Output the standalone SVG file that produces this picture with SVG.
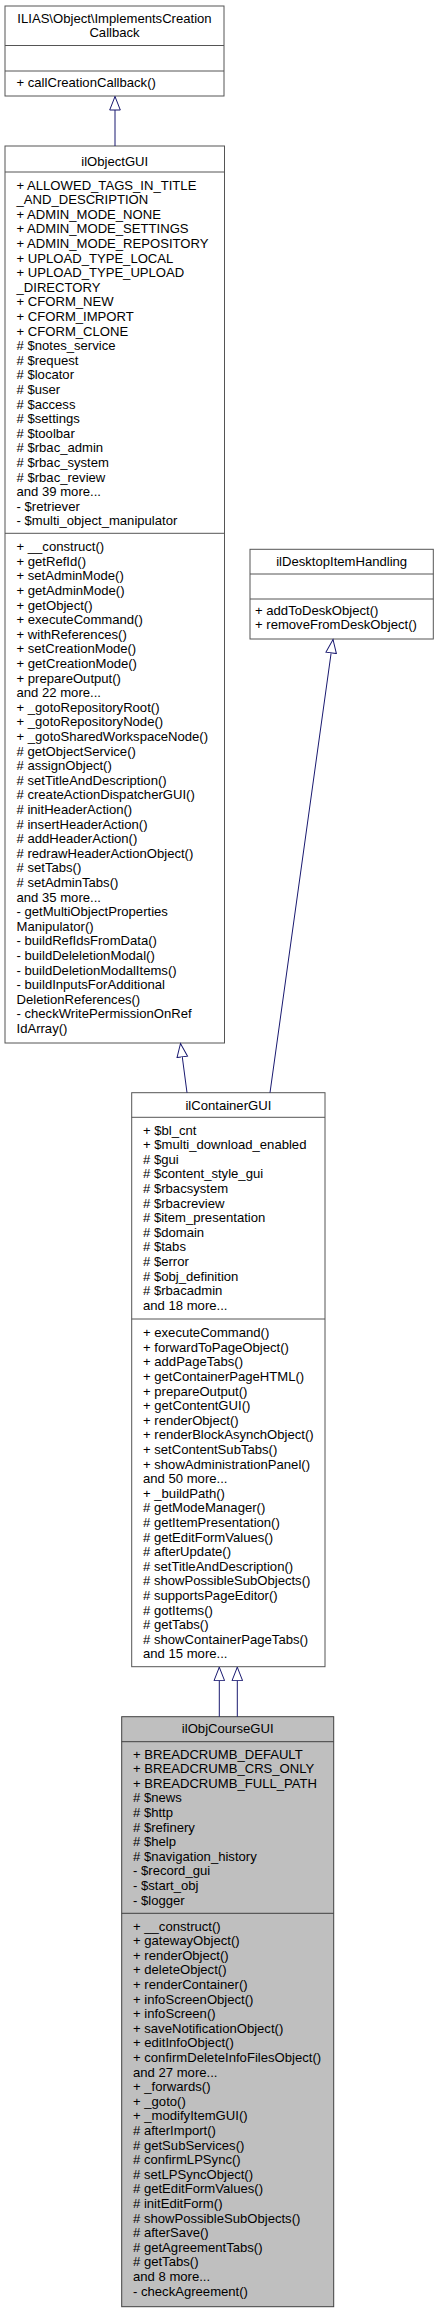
<svg xmlns="http://www.w3.org/2000/svg" width="439" height="2312" viewBox="0 0 439 2312">
<style>
text{font-family:"Liberation Sans",Arial,Helvetica,sans-serif;font-size:13.1px;fill:#000}
.c{text-anchor:middle}
.box{fill:#fff;stroke:#555;stroke-width:1}
.main{fill:#bfbfbf;stroke:#404040;stroke-width:1}
.sep{stroke:#555;stroke-width:1}
.msep{stroke:#404040;stroke-width:1}
.edge{fill:none;stroke:#191970;stroke-width:1;marker-end:url(#tri)}
</style>
<defs>
<marker id="tri" markerUnits="userSpaceOnUse" markerWidth="16" markerHeight="13" refX="14" refY="6" orient="auto">
<path d="M0.5,0.7 L14,6 L0.5,11.3 Z" fill="#fff" stroke="#191970" stroke-width="1"/>
</marker>
</defs>
<rect width="439" height="2312" fill="#fff"/>

<g id="node-creationcallback">
<rect class="box" x="5" y="6" width="219" height="90"/>
<line class="sep" x1="5" y1="45.5" x2="224" y2="45.5"/>
<line class="sep" x1="5" y1="71" x2="224" y2="71"/>
<text class="c" x="114.5" y="22.5">ILIAS\Object\ImplementsCreation</text>
<text class="c" x="114.5" y="37.1">Callback</text>
<text x="16.5" y="87.3">+ callCreationCallback()</text>
</g>

<g id="node-ilObjectGUI">
<rect class="box" x="5" y="146" width="219.5" height="897"/>
<line class="sep" x1="5" y1="172" x2="224.5" y2="172"/>
<line class="sep" x1="5" y1="533.3" x2="224.5" y2="533.3"/>
<text class="c" x="114.75" y="165.5">ilObjectGUI</text>
<text x="16.5" y="189.5"><tspan x="16.5">+ ALLOWED_TAGS_IN_TITLE</tspan><tspan x="16.5" dy="14.6">_AND_DESCRIPTION</tspan><tspan x="16.5" dy="14.6">+ ADMIN_MODE_NONE</tspan><tspan x="16.5" dy="14.6">+ ADMIN_MODE_SETTINGS</tspan><tspan x="16.5" dy="14.6">+ ADMIN_MODE_REPOSITORY</tspan><tspan x="16.5" dy="14.6">+ UPLOAD_TYPE_LOCAL</tspan><tspan x="16.5" dy="14.6">+ UPLOAD_TYPE_UPLOAD</tspan><tspan x="16.5" dy="14.6">_DIRECTORY</tspan><tspan x="16.5" dy="14.6">+ CFORM_NEW</tspan><tspan x="16.5" dy="14.6">+ CFORM_IMPORT</tspan><tspan x="16.5" dy="14.6">+ CFORM_CLONE</tspan><tspan x="16.5" dy="14.6"># $notes_service</tspan><tspan x="16.5" dy="14.6"># $request</tspan><tspan x="16.5" dy="14.6"># $locator</tspan><tspan x="16.5" dy="14.6"># $user</tspan><tspan x="16.5" dy="14.6"># $access</tspan><tspan x="16.5" dy="14.6"># $settings</tspan><tspan x="16.5" dy="14.6"># $toolbar</tspan><tspan x="16.5" dy="14.6"># $rbac_admin</tspan><tspan x="16.5" dy="14.6"># $rbac_system</tspan><tspan x="16.5" dy="14.6"># $rbac_review</tspan><tspan x="16.5" dy="14.6">and 39 more...</tspan><tspan x="16.5" dy="14.6">- $retriever</tspan><tspan x="16.5" dy="14.6">- $multi_object_manipulator</tspan></text>
<text x="16.5" y="551.2"><tspan x="16.5">+ __construct()</tspan><tspan x="16.5" dy="14.6">+ getRefId()</tspan><tspan x="16.5" dy="14.6">+ setAdminMode()</tspan><tspan x="16.5" dy="14.6">+ getAdminMode()</tspan><tspan x="16.5" dy="14.6">+ getObject()</tspan><tspan x="16.5" dy="14.6">+ executeCommand()</tspan><tspan x="16.5" dy="14.6">+ withReferences()</tspan><tspan x="16.5" dy="14.6">+ setCreationMode()</tspan><tspan x="16.5" dy="14.6">+ getCreationMode()</tspan><tspan x="16.5" dy="14.6">+ prepareOutput()</tspan><tspan x="16.5" dy="14.6">and 22 more...</tspan><tspan x="16.5" dy="14.6">+ _gotoRepositoryRoot()</tspan><tspan x="16.5" dy="14.6">+ _gotoRepositoryNode()</tspan><tspan x="16.5" dy="14.6">+ _gotoSharedWorkspaceNode()</tspan><tspan x="16.5" dy="14.6"># getObjectService()</tspan><tspan x="16.5" dy="14.6"># assignObject()</tspan><tspan x="16.5" dy="14.6"># setTitleAndDescription()</tspan><tspan x="16.5" dy="14.6"># createActionDispatcherGUI()</tspan><tspan x="16.5" dy="14.6"># initHeaderAction()</tspan><tspan x="16.5" dy="14.6"># insertHeaderAction()</tspan><tspan x="16.5" dy="14.6"># addHeaderAction()</tspan><tspan x="16.5" dy="14.6"># redrawHeaderActionObject()</tspan><tspan x="16.5" dy="14.6"># setTabs()</tspan><tspan x="16.5" dy="14.6"># setAdminTabs()</tspan><tspan x="16.5" dy="14.6">and 35 more...</tspan><tspan x="16.5" dy="14.6">- getMultiObjectProperties</tspan><tspan x="16.5" dy="14.6">Manipulator()</tspan><tspan x="16.5" dy="14.6">- buildRefIdsFromData()</tspan><tspan x="16.5" dy="14.6">- buildDeleletionModal()</tspan><tspan x="16.5" dy="14.6">- buildDeletionModalItems()</tspan><tspan x="16.5" dy="14.6">- buildInputsForAdditional</tspan><tspan x="16.5" dy="14.6">DeletionReferences()</tspan><tspan x="16.5" dy="14.6">- checkWritePermissionOnRef</tspan><tspan x="16.5" dy="14.6">IdArray()</tspan></text>
</g>

<g id="node-ilDesktopItemHandling">
<rect class="box" x="250" y="549.3" width="183.3" height="89.7"/>
<line class="sep" x1="250" y1="574" x2="433.3" y2="574"/>
<line class="sep" x1="250" y1="599" x2="433.3" y2="599"/>
<text class="c" x="341.65" y="566">ilDesktopItemHandling</text>
<text x="255" y="614.5"><tspan x="255">+ addToDeskObject()</tspan><tspan x="255" dy="14.6">+ removeFromDeskObject()</tspan></text>
</g>

<g id="node-ilContainerGUI">
<rect class="box" x="131.7" y="1092.7" width="193.3" height="574"/>
<line class="sep" x1="131.7" y1="1117.3" x2="325" y2="1117.3"/>
<line class="sep" x1="131.7" y1="1319" x2="325" y2="1319"/>
<text class="c" x="228.35" y="1109.5">ilContainerGUI</text>
<text x="143" y="1134.5"><tspan x="143">+ $bl_cnt</tspan><tspan x="143" dy="14.6">+ $multi_download_enabled</tspan><tspan x="143" dy="14.6"># $gui</tspan><tspan x="143" dy="14.6"># $content_style_gui</tspan><tspan x="143" dy="14.6"># $rbacsystem</tspan><tspan x="143" dy="14.6"># $rbacreview</tspan><tspan x="143" dy="14.6"># $item_presentation</tspan><tspan x="143" dy="14.6"># $domain</tspan><tspan x="143" dy="14.6"># $tabs</tspan><tspan x="143" dy="14.6"># $error</tspan><tspan x="143" dy="14.6"># $obj_definition</tspan><tspan x="143" dy="14.6"># $rbacadmin</tspan><tspan x="143" dy="14.6">and 18 more...</tspan></text>
<text x="143" y="1337.2"><tspan x="143">+ executeCommand()</tspan><tspan x="143" dy="14.6">+ forwardToPageObject()</tspan><tspan x="143" dy="14.6">+ addPageTabs()</tspan><tspan x="143" dy="14.6">+ getContainerPageHTML()</tspan><tspan x="143" dy="14.6">+ prepareOutput()</tspan><tspan x="143" dy="14.6">+ getContentGUI()</tspan><tspan x="143" dy="14.6">+ renderObject()</tspan><tspan x="143" dy="14.6">+ renderBlockAsynchObject()</tspan><tspan x="143" dy="14.6">+ setContentSubTabs()</tspan><tspan x="143" dy="14.6">+ showAdministrationPanel()</tspan><tspan x="143" dy="14.6">and 50 more...</tspan><tspan x="143" dy="14.6">+ _buildPath()</tspan><tspan x="143" dy="14.6"># getModeManager()</tspan><tspan x="143" dy="14.6"># getItemPresentation()</tspan><tspan x="143" dy="14.6"># getEditFormValues()</tspan><tspan x="143" dy="14.6"># afterUpdate()</tspan><tspan x="143" dy="14.6"># setTitleAndDescription()</tspan><tspan x="143" dy="14.6"># showPossibleSubObjects()</tspan><tspan x="143" dy="14.6"># supportsPageEditor()</tspan><tspan x="143" dy="14.6"># gotItems()</tspan><tspan x="143" dy="14.6"># getTabs()</tspan><tspan x="143" dy="14.6"># showContainerPageTabs()</tspan><tspan x="143" dy="14.6">and 15 more...</tspan></text>
</g>

<g id="node-ilObjCourseGUI">
<rect class="main" x="121.7" y="1716.7" width="212" height="590"/>
<line class="msep" x1="121.7" y1="1741.7" x2="333.7" y2="1741.7"/>
<line class="msep" x1="121.7" y1="1913.3" x2="333.7" y2="1913.3"/>
<text class="c" x="227.7" y="1732.8">ilObjCourseGUI</text>
<text x="133" y="1758.5"><tspan x="133">+ BREADCRUMB_DEFAULT</tspan><tspan x="133" dy="14.6">+ BREADCRUMB_CRS_ONLY</tspan><tspan x="133" dy="14.6">+ BREADCRUMB_FULL_PATH</tspan><tspan x="133" dy="14.6"># $news</tspan><tspan x="133" dy="14.6"># $http</tspan><tspan x="133" dy="14.6"># $refinery</tspan><tspan x="133" dy="14.6"># $help</tspan><tspan x="133" dy="14.6"># $navigation_history</tspan><tspan x="133" dy="14.6">- $record_gui</tspan><tspan x="133" dy="14.6">- $start_obj</tspan><tspan x="133" dy="14.6">- $logger</tspan></text>
<text x="133" y="1930.5"><tspan x="133">+ __construct()</tspan><tspan x="133" dy="14.6">+ gatewayObject()</tspan><tspan x="133" dy="14.6">+ renderObject()</tspan><tspan x="133" dy="14.6">+ deleteObject()</tspan><tspan x="133" dy="14.6">+ renderContainer()</tspan><tspan x="133" dy="14.6">+ infoScreenObject()</tspan><tspan x="133" dy="14.6">+ infoScreen()</tspan><tspan x="133" dy="14.6">+ saveNotificationObject()</tspan><tspan x="133" dy="14.6">+ editInfoObject()</tspan><tspan x="133" dy="14.6">+ confirmDeleteInfoFilesObject()</tspan><tspan x="133" dy="14.6">and 27 more...</tspan><tspan x="133" dy="14.6">+ _forwards()</tspan><tspan x="133" dy="14.6">+ _goto()</tspan><tspan x="133" dy="14.6">+ _modifyItemGUI()</tspan><tspan x="133" dy="14.6"># afterImport()</tspan><tspan x="133" dy="14.6"># getSubServices()</tspan><tspan x="133" dy="14.6"># confirmLPSync()</tspan><tspan x="133" dy="14.6"># setLPSyncObject()</tspan><tspan x="133" dy="14.6"># getEditFormValues()</tspan><tspan x="133" dy="14.6"># initEditForm()</tspan><tspan x="133" dy="14.6"># showPossibleSubObjects()</tspan><tspan x="133" dy="14.6"># afterSave()</tspan><tspan x="133" dy="14.6"># getAgreementTabs()</tspan><tspan x="133" dy="14.6"># getTabs()</tspan><tspan x="133" dy="14.6">and 8 more...</tspan><tspan x="133" dy="14.6">- checkAgreement()</tspan></text>
</g>

<g id="connectors">
<path class="edge" d="M115,146 L115,96.5"/>
<path class="edge" d="M187,1092.7 L180.5,1043.5"/>
<path class="edge" d="M270,1092.7 L333,639.5"/>
<path class="edge" d="M219.3,1716.7 L219.3,1667.2"/>
<path class="edge" d="M237.3,1716.7 L237.3,1667.2"/>
</g>
</svg>
